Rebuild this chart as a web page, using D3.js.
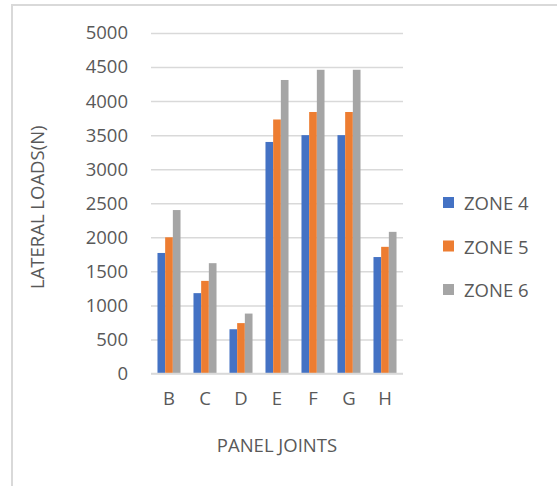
<!DOCTYPE html>
<html>
<head>
<meta charset="utf-8">
<script src="https://cdn.jsdelivr.net/npm/d3@7"></script>
<style>
  html, body { margin: 0; padding: 0; background: #fff; }
  svg { display: block; }
  text { font-family: "Open Sans", "Noto Sans", sans-serif; fill: #595959; }
</style>
</head>
<body>
<script>
// Lateral loads at each panel joint, per seismic zone
const joints = ["B", "C", "D", "E", "F", "G", "H"];
const zones = ["ZONE 4", "ZONE 5", "ZONE 6"];
const zone4 = [1770, 1180, 650, 3400, 3500, 3500, 1710];
const zone5 = [2000, 1360, 740, 3730, 3840, 3840, 1860];
const zone6 = [2400, 1620, 880, 4310, 4460, 4460, 2080];
const yTicks = [0, 500, 1000, 1500, 2000, 2500, 3000, 3500, 4000, 4500, 5000];
const colors = ["#4472C4", "#ED7D31", "#A5A5A5"];

const seriesValues = [zone4, zone5, zone6];
const W = 557, H = 486;
const plot = { left: 151, right: 403, top: 33, bottom: 373.5 };

const svg = d3.select("body").append("svg")
  .attr("width", W).attr("height", H);

// chart area frame (open to the right and bottom)
svg.append("path")
  .attr("d", `M12,${H} L12,5 L${W},5`)
  .attr("fill", "none")
  .attr("stroke", "#d9d9d9")
  .attr("stroke-width", 2);

const x = d3.scaleBand().domain(joints)
  .range([plot.left, plot.right])
  .paddingInner(0.36).paddingOuter(0.18);
const xs = d3.scaleBand().domain(zones).range([0, x.bandwidth()]);
const y = d3.scaleLinear().domain([0, 5000]).range([plot.bottom, plot.top]);

// horizontal gridlines + y tick labels
const yAxis = d3.axisLeft(y).tickValues(yTicks).tickFormat(d3.format("d"))
  .tickSize(-(plot.right - plot.left)).tickPadding(23);
const gy = svg.append("g").attr("transform", `translate(${plot.left},0)`).call(yAxis);
gy.select(".domain").remove();
gy.selectAll(".tick line").attr("stroke", "#d9d9d9").attr("stroke-width", 1.5);
gy.selectAll(".tick text")
  .attr("font-size", 18.5).attr("fill", "#595959")
  .style("font-family", "'Open Sans', sans-serif");

// bars
const groups = svg.append("g").selectAll("g")
  .data(joints).join("g")
  .attr("transform", d => `translate(${x(d)},0)`);
groups.selectAll("rect")
  .data((d, i) => zones.map((z, k) => ({ zone: z, k, v: seriesValues[k][i] })))
  .join("rect")
  .attr("x", d => xs(d.zone))
  .attr("width", xs.bandwidth())
  .attr("y", d => y(d.v))
  .attr("height", d => y(0) - y(d.v))
  .attr("fill", d => colors[d.k]);

// baseline
svg.append("line")
  .attr("x1", plot.left).attr("x2", plot.right)
  .attr("y1", y(0)).attr("y2", y(0))
  .attr("stroke", "#d9d9d9").attr("stroke-width", 1.5);

// category labels
const xAxis = d3.axisBottom(x).tickSize(0).tickPadding(18);
const gx = svg.append("g").attr("transform", `translate(0,${plot.bottom})`).call(xAxis);
gx.select(".domain").remove();
gx.selectAll(".tick text")
  .attr("font-size", 18.5).attr("fill", "#595959")
  .style("font-family", "'Open Sans', sans-serif");

// axis titles
svg.append("text")
  .attr("x", (plot.left + plot.right) / 2).attr("y", 444)
  .attr("text-anchor", "middle").attr("dominant-baseline", "central")
  .attr("font-size", 18.5)
  .text("PANEL JOINTS");
svg.append("text")
  .attr("transform", `translate(36,${(plot.top + plot.bottom) / 2 + 4}) rotate(-90)`)
  .attr("text-anchor", "middle").attr("dominant-baseline", "central")
  .attr("font-size", 18.5)
  .text("LATERAL LOADS(N)");

// legend
const legend = svg.append("g").selectAll("g")
  .data(zones).join("g")
  .attr("transform", (d, i) => `translate(443,${202.5 + i * 43.5})`);
legend.append("rect")
  .attr("x", 0).attr("y", -5.5).attr("width", 11).attr("height", 11)
  .attr("fill", (d, i) => colors[i]);
legend.append("text")
  .attr("x", 21).attr("y", 0)
  .attr("dominant-baseline", "central")
  .attr("font-size", 18.5)
  .text(d => d);
</script>
</body>
</html>
